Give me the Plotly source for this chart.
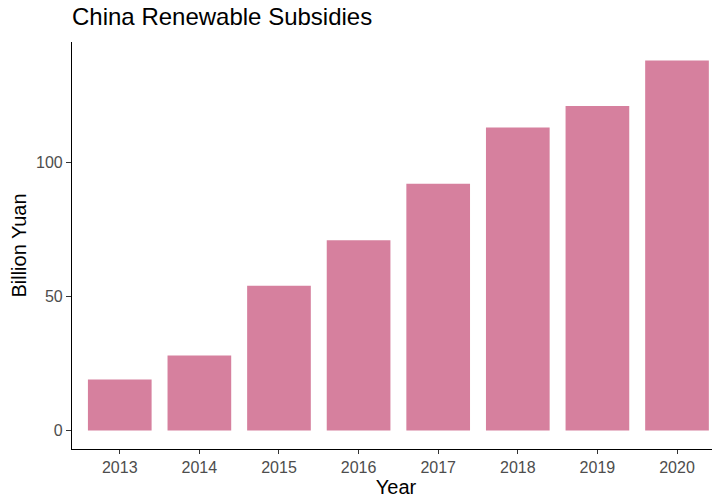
"""China renewable subsidies bar chart."""

import plotly.graph_objects as go

years = ["2013", "2014", "2015", "2016", "2017", "2018", "2019", "2020"]
subsidies = [19, 28, 54, 71, 92, 113, 121, 138]

# page body has an 8px margin, so the figure is sized to what stays visible
W, H = 712, 491

fig = go.Figure(data=go.Bar(
    x=years,
    y=subsidies,
    marker=dict(color="#D6809E", line=dict(width=0)),
))

fig.update_layout(
    width=W,
    height=H,
    template="simple_white",
    paper_bgcolor="white",
    plot_bgcolor="white",
    font=dict(family="Liberation Sans, Arial, sans-serif", color="#000000"),
    title=dict(
        text="China Renewable Subsidies",
        x=64 / W, xref="container", xanchor="left",
        y=1, yref="container", yanchor="top",
        font=dict(size=24, color="#000000"),
    ),
    margin=dict(l=64, r=0, t=34, b=50),
    bargap=0.2,
    showlegend=False,
)

fig.update_xaxes(
    range=[-0.6, 7.54],
    showline=True, linecolor="#000000", linewidth=1.2,
    ticks="outside", ticklen=4, tickcolor="#333333", tickwidth=1,
    tickfont=dict(size=16, color="#4D4D4D"),
    title=dict(text="Year", font=dict(size=20, color="#000000"), standoff=4),
    showgrid=False, zeroline=False,
)

fig.update_yaxes(
    range=[-6.9, 144.9],
    tickvals=[0, 50, 100],
    showline=True, linecolor="#000000", linewidth=1.2,
    ticks="outside", ticklen=5, tickcolor="#333333", tickwidth=1,
    tickfont=dict(size=16, color="#4D4D4D"),
    title=dict(text="Billion Yuan", font=dict(size=20, color="#000000"), standoff=7),
    showgrid=False, zeroline=False,
)

fig.write_html("out.html")
